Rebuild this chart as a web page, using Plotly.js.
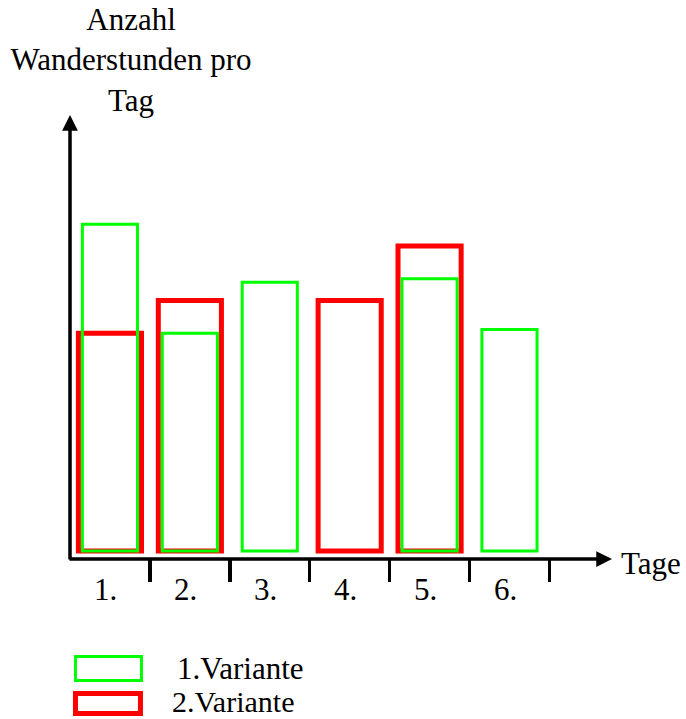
<!DOCTYPE html>
<html>
<head>
<meta charset="utf-8">
<script src="https://cdn.plot.ly/plotly-3.0.1.min.js"></script>
<style>html,body{margin:0;padding:0;background:#fff;}#chart{width:686px;height:719px;}</style>
</head>
<body>
<div id="chart"></div>
<script>
// ---- data ----
var days = [1, 2, 3, 4, 5, 6];
var dayLabels = ['1.', '2.', '3.', '4.', '5.', '6.'];
var variante1 = [9, 6, 7.4, null, 7.5, 6.1];   // green
var variante2 = [6, 6.9, null, 6.9, 8.4, null]; // red
var seriesNames = ['1.Variante', '2.Variante'];
var yTitle = 'Anzahl<br>Wanderstunden pro<br>Tag';
var xTitle = 'Tage';

var FONT = 'Liberation Serif, Times New Roman, serif';
var GREEN = '#00ff00', RED = '#ff0000';

var traces = [
  {type: 'bar', x: days, y: variante2, name: seriesNames[1], width: 0.79,
   marker: {color: 'rgba(0,0,0,0)', line: {color: RED, width: 5}}, showlegend: false, hoverinfo: 'skip'},
  {type: 'bar', x: days, y: variante1, name: seriesNames[0], width: 0.69,
   marker: {color: 'rgba(0,0,0,0)', line: {color: GREEN, width: 3}}, showlegend: false, hoverinfo: 'skip'}
];

var boundaries = days.map(function (d) { return d + 0.5; });

var annotations = [];
// axis arrows
annotations.push({xref: 'paper', yref: 'paper', x: 1, y: 0, ax: -544, ay: 0, axref: 'pixel', ayref: 'pixel',
  showarrow: true, arrowhead: 2, arrowsize: 0.9, arrowwidth: 3.5, arrowcolor: '#000', text: ''});
annotations.push({xref: 'paper', yref: 'paper', x: 0, y: 1, ax: 0, ay: 446, axref: 'pixel', ayref: 'pixel',
  showarrow: true, arrowhead: 2, arrowsize: 0.9, arrowwidth: 3.5, arrowcolor: '#000', text: ''});
// category labels
days.forEach(function (d, i) {
  annotations.push({xref: 'x', yref: 'paper', x: d, y: -0.0698, xshift: -4, yanchor: 'middle',
    showarrow: false, text: dayLabels[i], font: {family: FONT, size: 31, color: '#000'}});
});
// x axis title
annotations.push({xref: 'paper', yref: 'paper', x: 1, y: 0, xanchor: 'left', yanchor: 'middle', xshift: 7, yshift: -4,
  showarrow: false, text: xTitle, font: {family: FONT, size: 31, color: '#000'}});
// legend texts
annotations.push({xref: 'paper', yref: 'paper', x: 0.1937, y: -0.2477, xanchor: 'left', yanchor: 'middle',
  showarrow: false, text: seriesNames[0], font: {family: FONT, size: 31, color: '#000'}});
annotations.push({xref: 'paper', yref: 'paper', x: 0.1845, y: -0.3288, xanchor: 'left', yanchor: 'middle', yshift: 3,
  showarrow: false, text: seriesNames[1], font: {family: FONT, size: 30, color: '#000'}});

var shapes = [
  {type: 'rect', xref: 'paper', yref: 'paper', x0: 0.0101, x1: 0.1319, y0: -0.2736, y1: -0.2196,
   line: {color: GREEN, width: 3}, fillcolor: 'rgba(0,0,0,0)'},
  {type: 'rect', xref: 'paper', yref: 'paper', x0: 0.0101, x1: 0.1300, y0: -0.3480, y1: -0.3029,
   line: {color: RED, width: 5}, fillcolor: 'rgba(0,0,0,0)'}
];

var layout = {
  width: 686, height: 719,
  margin: {l: 70, r: 74, t: 115, b: 160},
  paper_bgcolor: '#fff', plot_bgcolor: '#fff',
  barmode: 'overlay',
  showlegend: false,
  title: {text: yTitle, xref: 'container', yref: 'container', x: 0.191, xanchor: 'center', y: 0.9583, yanchor: 'middle',
          font: {family: FONT, size: 31, color: '#000'}},
  xaxis: {range: [0.5, 7.283], showgrid: false, zeroline: false, showline: false,
          tickmode: 'array', tickvals: boundaries, ticks: 'outside', ticklen: 22, tickwidth: 3.5, tickcolor: '#000',
          showticklabels: false, fixedrange: true},
  yaxis: {range: [-0.22, 12.01], showgrid: false, zeroline: false, showline: false, ticks: '',
          showticklabels: false, fixedrange: true},
  annotations: annotations,
  shapes: shapes,
  font: {family: FONT, color: '#000'}
};

Plotly.newPlot('chart', traces, layout, {staticPlot: true, displayModeBar: false});
</script>
</body>
</html>
